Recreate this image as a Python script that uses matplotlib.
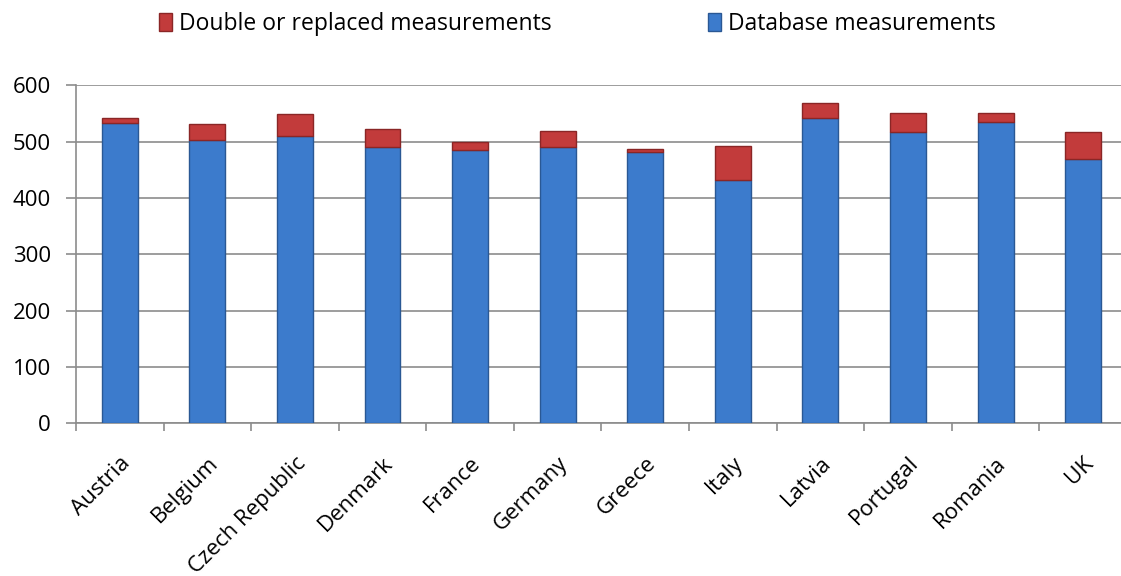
import numpy as np
import matplotlib
matplotlib.use("Agg")
import matplotlib.pyplot as plt

countries = ["Austria", "Belgium", "Czech Republic", "Denmark", "France", "Germany",
             "Greece", "Italy", "Latvia", "Portugal", "Romania", "UK"]
database = [534, 504, 511, 490, 486, 491, 481, 433, 542, 517, 536, 469]
double_replaced = [8, 28, 38, 32, 14, 29, 7, 59, 27, 34, 16, 49]

plt.rcParams['font.family'] = ['Open Sans', 'DejaVu Sans']

fig = plt.figure(figsize=(11.21, 5.76), dpi=100)
ax = fig.add_axes([0.0678, 0.265, 0.9375, 0.5866])

x = np.arange(len(countries))
w = 0.41
blue = ax.bar(x, database, w, color='#3C7BCC', edgecolor='#2A5894', linewidth=1.0,
              label='Database measurements', zorder=3)
red = ax.bar(x, double_replaced, w, bottom=database, color='#C23B3B', edgecolor='#8A2626',
             linewidth=1.0, label='Double or replaced measurements', zorder=3)

ax.set_xlim(-0.5, len(countries) - 0.5)
ax.set_ylim(0, 600)
ax.set_yticks(range(0, 601, 100))
ax.yaxis.grid(True, color='#8C8C8C', linewidth=1.2, zorder=0)
ax.set_axisbelow(True)

ax.set_xticks(np.arange(len(countries) + 1) - 0.5)
ax.set_xticklabels([])
ax.set_xticks(x, minor=True)
ax.set_xticklabels(countries, minor=True, rotation=45, ha='right', va='top',
                   rotation_mode='anchor', fontsize=16)
ax.tick_params(axis='x', which='minor', length=0, pad=21)
ax.tick_params(axis='x', which='major', length=6, color='#8C8C8C', width=1.2)
ax.tick_params(axis='y', length=7, color='#8C8C8C', width=1.2, labelsize=16, pad=11)

for s in ['top', 'right']:
    ax.spines[s].set_visible(False)
for s in ['left', 'bottom']:
    ax.spines[s].set_color('#8C8C8C')
    ax.spines[s].set_linewidth(1.2)

ax.legend(handles=[red, blue], ncol=2, loc='center', bbox_to_anchor=(0.515, 0.958),
          bbox_transform=fig.transFigure, frameon=False, fontsize=16.5,
          handlelength=0.6, handleheight=0.8, handletextpad=0.3, columnspacing=6.8)

fig.savefig('out.png', dpi=100)
